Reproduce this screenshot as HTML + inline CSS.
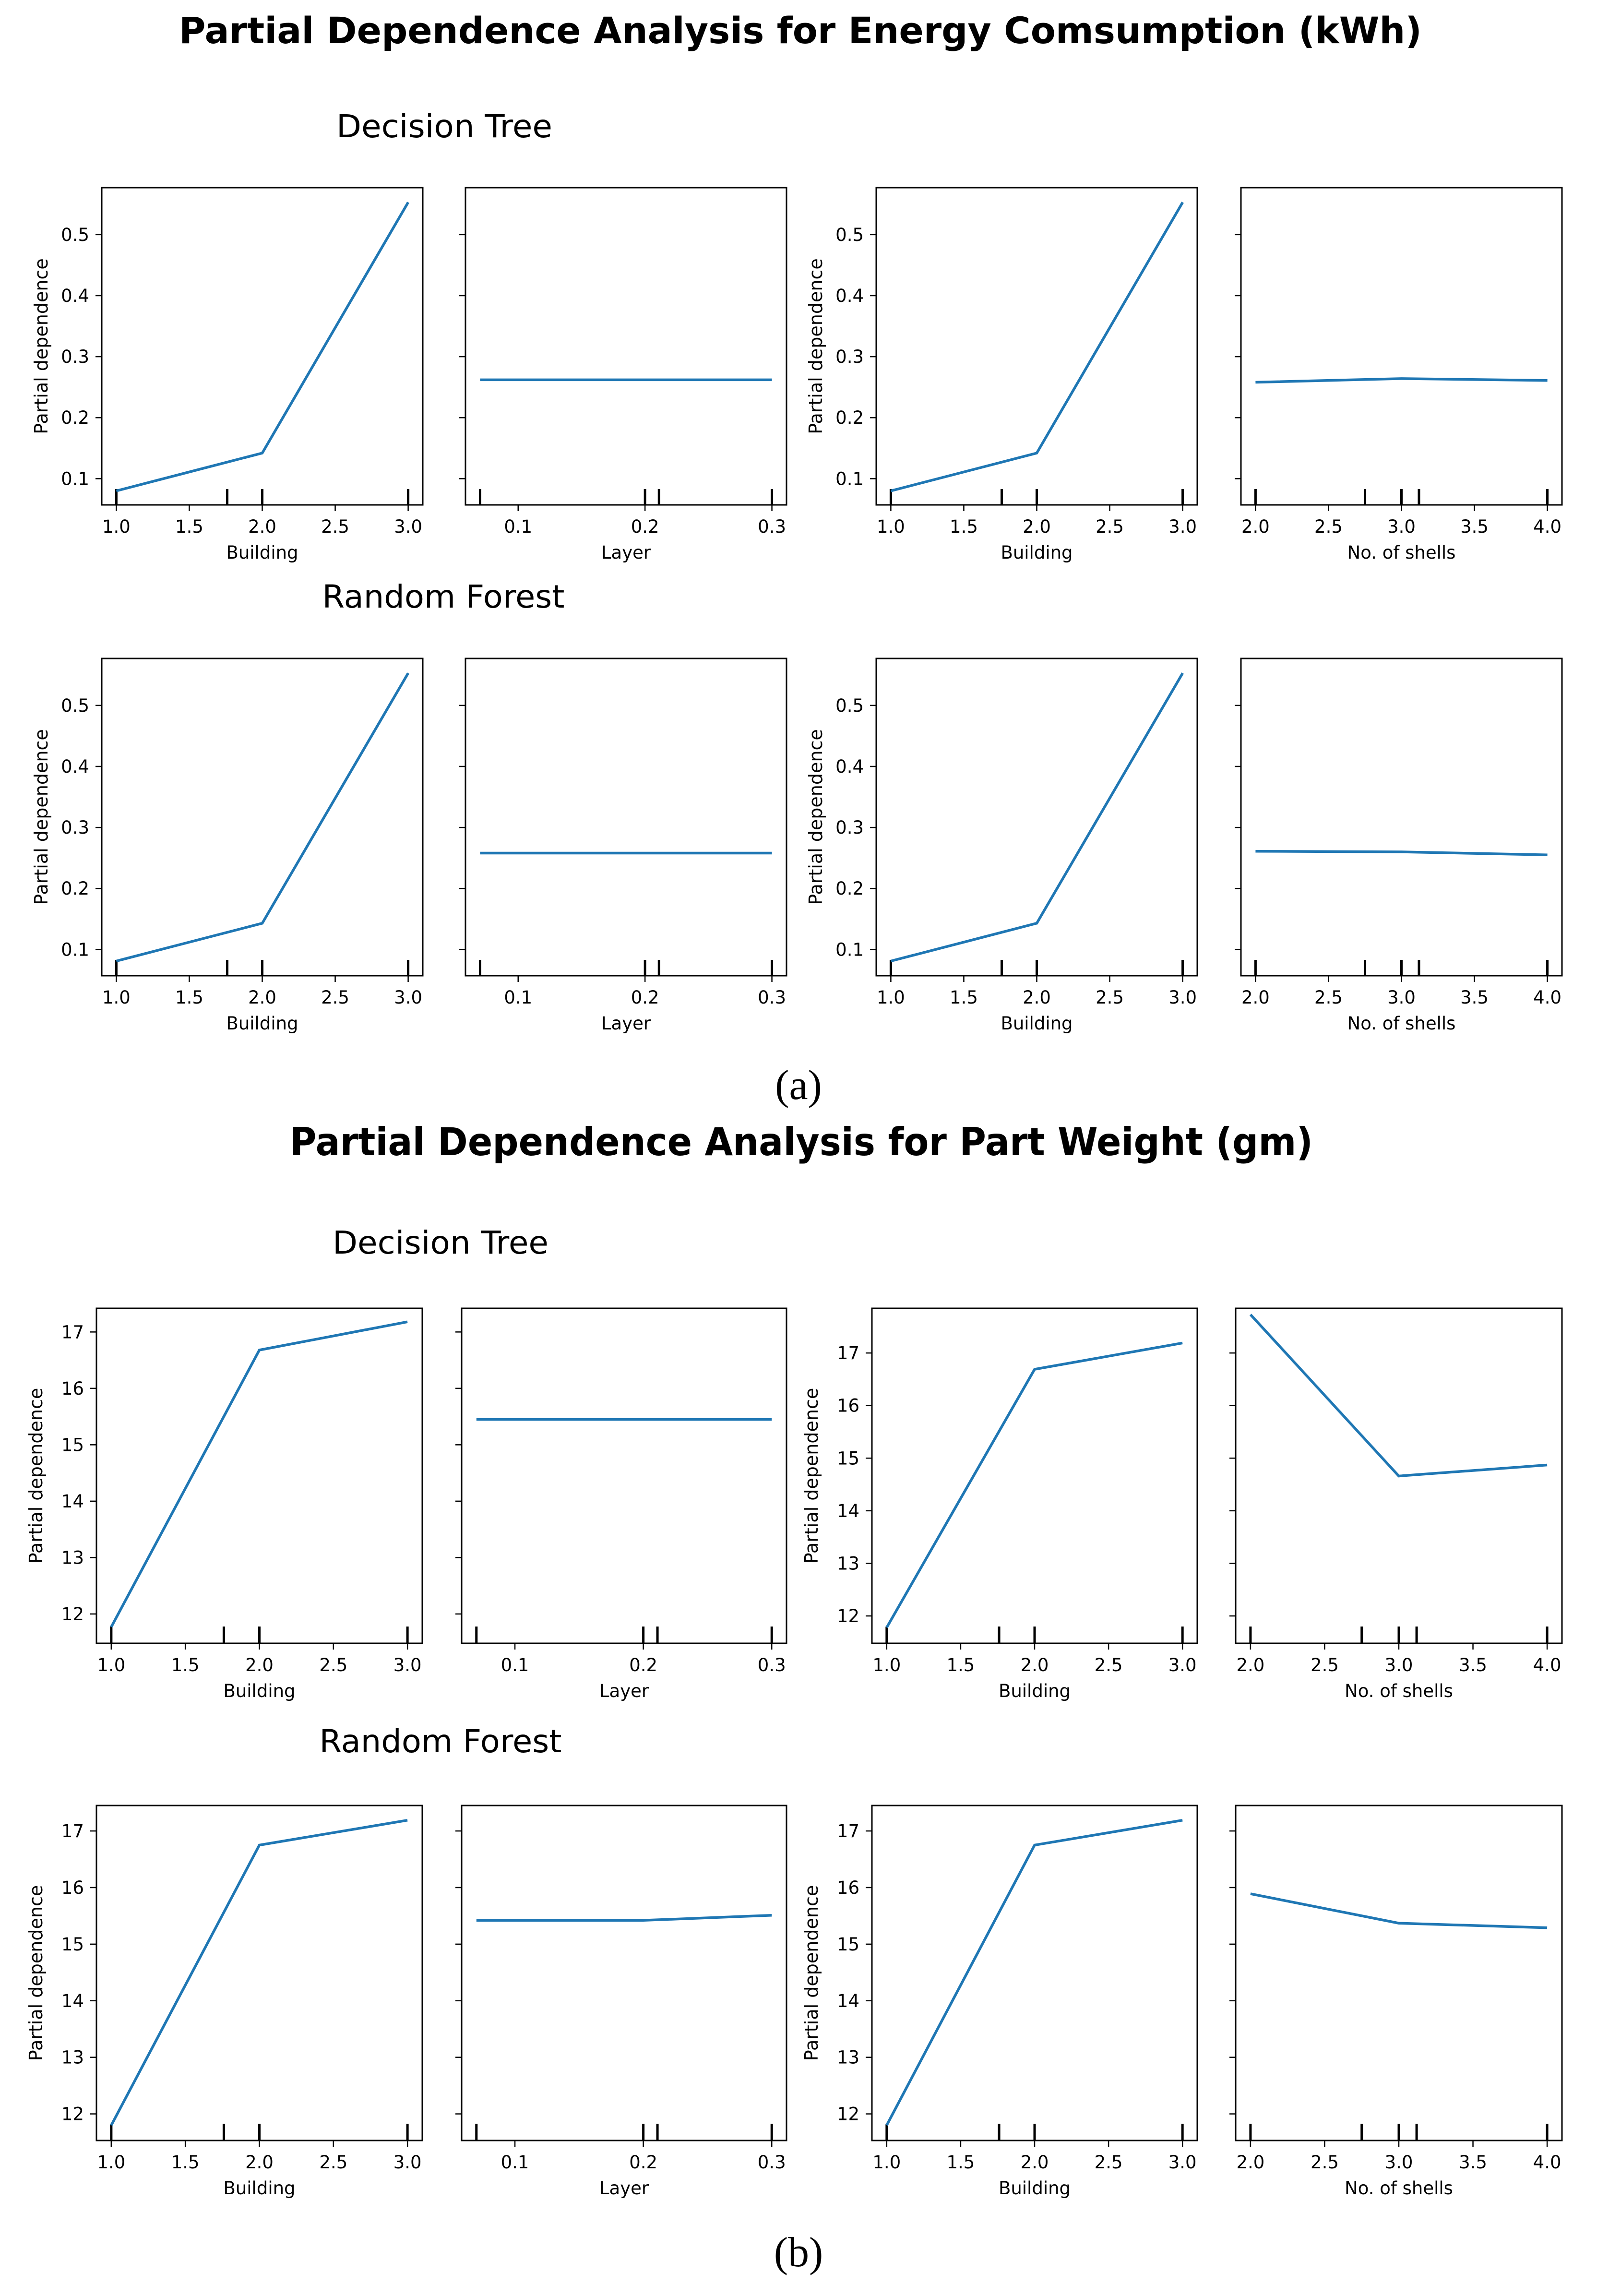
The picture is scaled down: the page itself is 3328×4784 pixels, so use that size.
<!DOCTYPE html>
<html><head><meta charset="utf-8"><style>
html,body{margin:0;padding:0;background:#fff;}
svg{display:block;}
text{font-family:"DejaVu Sans","Liberation Sans",sans-serif;fill:#000;}
</style></head><body>
<svg id="fig" width="3328" height="4784" viewBox="0 0 3328 4784" xmlns="http://www.w3.org/2000/svg">
<rect x="0" y="0" width="3328" height="4784" fill="#fff"/>
<text x="1668" y="90" font-size="76" font-weight="bold" text-anchor="middle" textLength="2590" lengthAdjust="spacingAndGlyphs">Partial Dependence Analysis for Energy Comsumption (kWh)</text>
<text x="926" y="286" font-size="66" text-anchor="middle" textLength="450" lengthAdjust="spacingAndGlyphs">Decision Tree</text>
<text x="924" y="1266" font-size="66" text-anchor="middle" textLength="505" lengthAdjust="spacingAndGlyphs">Random Forest</text>
<text x="1664" y="2290" font-size="88" text-anchor="middle" style="font-family:'Liberation Serif',serif">(a)</text>
<text x="1670" y="2407" font-size="80" font-weight="bold" text-anchor="middle" textLength="2132" lengthAdjust="spacingAndGlyphs">Partial Dependence Analysis for Part Weight (gm)</text>
<text x="918" y="2612" font-size="66" text-anchor="middle" textLength="450" lengthAdjust="spacingAndGlyphs">Decision Tree</text>
<text x="918" y="3651" font-size="66" text-anchor="middle" textLength="505" lengthAdjust="spacingAndGlyphs">Random Forest</text>
<text x="1664" y="4722" font-size="88" text-anchor="middle" style="font-family:'Liberation Serif',serif">(b)</text>
<g id="plots"></g>
</svg>
<script>
// Feature grids
const buildingX = [1, 2, 3];
const layerX = [0.07, 0.2, 0.3];
const shellsX = [2, 3, 4];
// Decile rug positions
const buildingRug = [1, 1.76, 2, 3];
const layerRug = [0.07, 0.2, 0.211, 0.3];
const shellsRug = [2, 2.75, 3, 3.12, 4];
// Tick labels
const buildingTicks = ["1.0", "1.5", "2.0", "2.5", "3.0"];
const layerTicks = ["0.1", "0.2", "0.3"];
const shellsTicks = ["2.0", "2.5", "3.0", "3.5", "4.0"];
const energyYTicks = ["0.1", "0.2", "0.3", "0.4", "0.5"];
const weightYTicks = ["12", "13", "14", "15", "16", "17"];
// Series values
const eDTBuilding = [0.080, 0.142, 0.553];
const eDTLayer = [0.262, 0.262, 0.262];
const eDTBuilding2 = [0.080, 0.142, 0.553];
const eDTShells = [0.258, 0.264, 0.261];
const eRFBuilding = [0.081, 0.143, 0.553];
const eRFLayer = [0.258, 0.258, 0.258];
const eRFBuilding2 = [0.081, 0.143, 0.553];
const eRFShells = [0.261, 0.260, 0.255];
const wDTBuilding = [11.77, 16.68, 17.18];
const wDTLayer = [15.45, 15.45, 15.45];
const wDTBuilding2 = [11.78, 16.69, 17.19];
const wDTShells = [17.73, 14.66, 14.87];
const wRFBuilding = [11.80, 16.75, 17.19];
const wRFLayer = [15.42, 15.42, 15.51];
const wRFBuilding2 = [11.80, 16.75, 17.19];
const wRFShells = [15.89, 15.37, 15.29];
// Axis domains
const buildingDomain = [0.9, 3.1];
const layerDomain = [0.0585, 0.3115];
const shellsDomain = [1.9, 4.1];
const energyDomain = [0.057, 0.577];
const weightDomainA = [11.48, 17.42];
const weightDomainB = [11.48, 17.85];
const weightDomainC = [11.53, 17.45];

const NS = "http://www.w3.org/2000/svg";
const root = document.getElementById("plots");
function mk(tag, attrs, parent) {
  const e = document.createElementNS(NS, tag);
  for (const k in attrs) e.setAttribute(k, attrs[k]);
  (parent || root).appendChild(e);
  return e;
}
const feats = {
  building: {x: buildingX, rug: buildingRug, ticks: buildingTicks, dom: buildingDomain, label: "Building"},
  layer: {x: layerX, rug: layerRug, ticks: layerTicks, dom: layerDomain, label: "Layer"},
  shells: {x: shellsX, rug: shellsRug, ticks: shellsTicks, dom: shellsDomain, label: "No. of shells"}
};
const colsA = [[212, 881], [970, 1639], [1826, 2495], [2586, 3255]];
const colsB = [[201, 880], [962, 1639], [1817, 2495], [2575, 3255]];
const rows = [
  {y: [391, 1052], cols: colsA, yt: energyYTicks, doms: [energyDomain, energyDomain], series: [eDTBuilding, eDTLayer, eDTBuilding2, eDTShells], name: "energy-dt"},
  {y: [1372, 2033], cols: colsA, yt: energyYTicks, doms: [energyDomain, energyDomain], series: [eRFBuilding, eRFLayer, eRFBuilding2, eRFShells], name: "energy-rf"},
  {y: [2726, 3424], cols: colsB, yt: weightYTicks, doms: [weightDomainA, weightDomainB], series: [wDTBuilding, wDTLayer, wDTBuilding2, wDTShells], name: "weight-dt"},
  {y: [3762, 4460], cols: colsB, yt: weightYTicks, doms: [weightDomainC, weightDomainC], series: [wRFBuilding, wRFLayer, wRFBuilding2, wRFShells], name: "weight-rf"}
];
const featOrder = ["building", "layer", "building", "shells"];

rows.forEach(function (row) {
  for (let c = 0; c < 4; c++) {
    const f = feats[featOrder[c]];
    const [x0, x1] = row.cols[c];
    const [y0, y1] = row.y;
    const yd = row.doms[c < 2 ? 0 : 1];
    const sx = v => x0 + (v - f.dom[0]) / (f.dom[1] - f.dom[0]) * (x1 - x0);
    const sy = v => y1 - (v - yd[0]) / (yd[1] - yd[0]) * (y1 - y0);
    const g = mk("g", {});
    
    
    // rug
    f.rug.forEach(function (v) {
      const r = mk("line", {x1: sx(v), x2: sx(v), y1: y1, y2: y1 - 0.05 * (y1 - y0), stroke: "#000", "stroke-width": 5}, g);
      
      
    });
    // line
    const s = row.series[c];
    const pts = f.x.map((v, i) => sx(v).toFixed(1) + "," + sy(s[i]).toFixed(1)).join(" ");
    const pl = mk("polyline", {points: pts, fill: "none", stroke: "#1f77b4", "stroke-width": 5.5, "stroke-linejoin": "miter"}, g);
    
    
    // frame
    const fr = mk("rect", {x: x0, y: y0, width: x1 - x0, height: y1 - y0, fill: "none", stroke: "#000", "stroke-width": 3}, g);
    
    
    // x ticks
    f.ticks.forEach(function (t) {
      const v = parseFloat(t), X = sx(v);
      mk("line", {x1: X, x2: X, y1: y1, y2: y1 + 13, stroke: "#000", "stroke-width": 2.5}, g);
      const tx = mk("text", {x: X, y: y1 + 58, "font-size": 37, "text-anchor": "middle"}, g);
      tx.textContent = t;
      
      
    });
    const xl = mk("text", {x: (x0 + x1) / 2, y: y1 + 112, "font-size": 37, "text-anchor": "middle"}, g);
    xl.textContent = f.label;
    
    
    // y ticks
    row.yt.forEach(function (t) {
      const Y = sy(parseFloat(t));
      mk("line", {x1: x0 - 13, x2: x0, y1: Y, y2: Y, stroke: "#000", "stroke-width": 2.5}, g);
      if (c === 0 || c === 2) {
        const ty = mk("text", {x: x0 - 26, y: Y + 13, "font-size": 37, "text-anchor": "end"}, g);
        ty.textContent = t;
        
        
      }
    });
    if (c === 0 || c === 2) {
      const cy = (y0 + y1) / 2, cx = x0 - 113;
      const yl = mk("text", {x: cx, y: cy, "font-size": 38, "text-anchor": "middle", transform: "rotate(-90 " + cx + " " + cy + ")"}, g);
      yl.textContent = "Partial dependence";
      
      
    }
  }
});
</script>
</body></html>
